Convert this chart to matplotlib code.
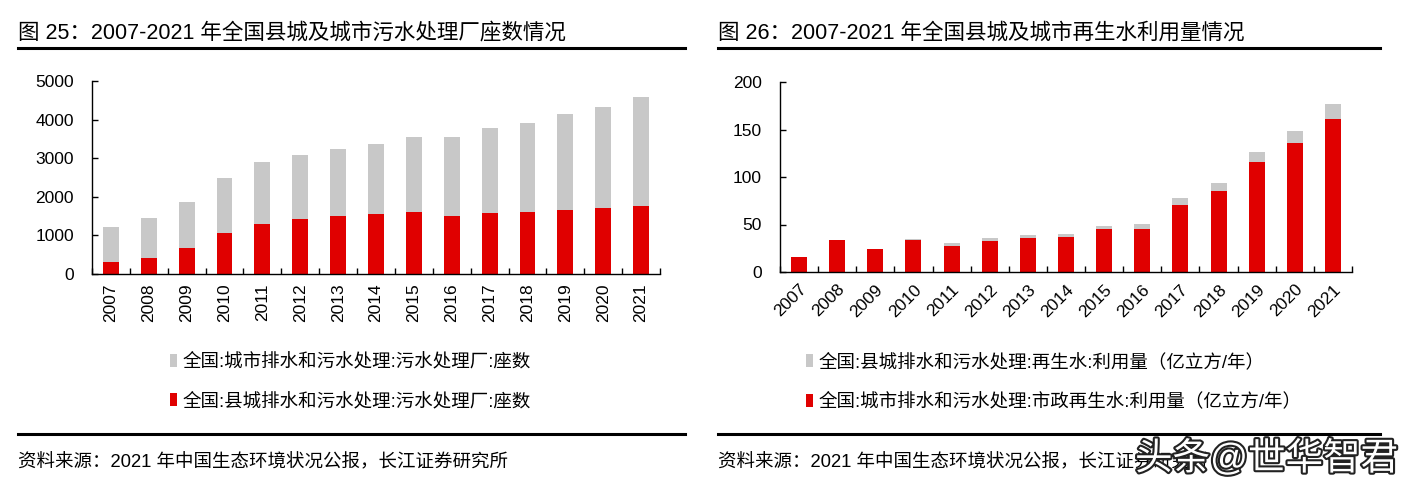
import numpy as np
import matplotlib
matplotlib.use("Agg")
import matplotlib.pyplot as plt
import matplotlib.patheffects as pe

plt.rcParams['font.family'] = ['Liberation Sans', 'Noto Sans CJK SC']
plt.rcParams['axes.unicode_minus'] = False

years = [str(y) for y in range(2007, 2022)]

# 图25 污水处理厂座数
city_plants = [883, 1018, 1214, 1444, 1588, 1670, 1736, 1807, 1944, 2039, 2209, 2321, 2471, 2618, 2827]
county_plants = [322, 427, 664, 1052, 1303, 1416, 1504, 1555, 1599, 1513, 1572, 1598, 1669, 1708, 1765]

# 图26 再生水利用量（亿立方/年）
city_reuse = [15.7, 33.6, 23.8, 33.6, 26.9, 32.2, 35.3, 36.4, 44.8, 45.1, 71.0, 85.3, 116.1, 135.3, 161.2]
county_reuse = [0.0, 0.3, 0.2, 1.4, 3.9, 3.1, 3.5, 3.5, 3.8, 5.6, 7.3, 8.8, 10.1, 12.6, 15.4]

title_l = "图 25：2007-2021 年全国县城及城市污水处理厂座数情况"
title_r = "图 26：2007-2021 年全国县城及城市再生水利用量情况"
legend_l = ["全国:城市排水和污水处理:污水处理厂:座数", "全国:县城排水和污水处理:污水处理厂:座数"]
legend_r = ["全国:县城排水和污水处理:再生水:利用量（亿立方/年）", "全国:城市排水和污水处理:市政再生水:利用量（亿立方/年）"]
source = "资料来源：2021 年中国生态环境状况公报，长江证券研究所"

RED = "#E00000"
GRAY = "#C8C8C8"
W, H = 1407, 493

fig = plt.figure(figsize=(W / 100, H / 100), dpi=100)


def fx(px):
    return px / W


def fy(py):
    return 1 - py / H


def style_axes(ax, ymax, yticks):
    x = np.arange(len(years))
    ax.set_xlim(-0.5, len(years) - 0.5)
    ax.set_ylim(0, ymax)
    ax.set_yticks(yticks)
    ax.set_xticks(x)
    ax.set_xticks(np.arange(-0.5, len(years), 1), minor=True)
    ax.tick_params(axis='x', which='major', length=0, labelsize=12.5, pad=7)
    ax.tick_params(axis='x', which='minor', direction='in', length=4, width=1)
    ax.tick_params(axis='y', direction='in', length=4, width=1, labelsize=12.5, pad=13)
    for s in ['top', 'right']:
        ax.spines[s].set_visible(False)
    for s in ['left', 'bottom']:
        ax.spines[s].set_linewidth(1)


leg_kw = dict(bbox_transform=fig.transFigure, loc='upper left', frameon=False, fontsize=13.3,
              handlelength=0.4, handleheight=0.7, handletextpad=0.3, labelspacing=1.2,
              borderpad=0, borderaxespad=0)

# left chart
ax1 = fig.add_axes([fx(92), fy(274), fx(660 - 92), fy(81) - fy(274)])
x = np.arange(len(years))
b_red = ax1.bar(x, county_plants, width=0.42, color=RED, zorder=2)
b_gray = ax1.bar(x, city_plants, width=0.42, bottom=county_plants, color=GRAY, zorder=2)
style_axes(ax1, 5000, range(0, 5001, 1000))
ax1.set_xticklabels(years, rotation=90, va='top')
ax1.legend([b_gray, b_red], legend_l, bbox_to_anchor=(fx(170), fy(353)), **leg_kw)

# right chart
ax2 = fig.add_axes([fx(780), fy(272), fx(1352 - 780), fy(82) - fy(272)])
r_red = ax2.bar(x, city_reuse, width=0.42, color=RED, zorder=2)
r_gray = ax2.bar(x, county_reuse, width=0.42, bottom=city_reuse, color=GRAY, zorder=2)
style_axes(ax2, 200, range(0, 201, 50))
ax2.set_xticklabels(years, rotation=45, ha='right', rotation_mode='anchor')
ax2.legend([r_gray, r_red], legend_r, bbox_to_anchor=(fx(806), fy(353)), **leg_kw)

# titles, rules, sources
for x0, x1, t in [(18, 685, title_l), (718, 1380, title_r)]:
    fig.text(fx(x0), fy(33), t, fontsize=15.5, va='center', ha='left')
    fig.add_artist(plt.Line2D([fx(x0), fx(x1)], [fy(48), fy(48)], color='black', lw=2.2))
    fig.add_artist(plt.Line2D([fx(x0), fx(x1)], [fy(434), fy(434)], color='black', lw=2.2))
    fig.text(fx(x0), fy(463), source, fontsize=13.3, va='center', ha='left')

fig.text(fx(1135), fy(459), "头条@世华智君", fontsize=27, va='center', ha='left', color='white',
         path_effects=[pe.withStroke(linewidth=3, foreground='#222222')])

fig.savefig("out.png", dpi=100)
